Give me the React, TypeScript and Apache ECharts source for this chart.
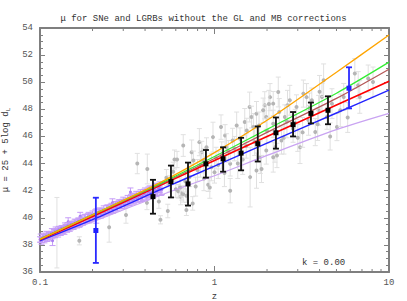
import React, { useEffect, useRef } from "react";
import * as echarts from "echarts";

const FONT = "Liberation Mono";

// model curves, read at these redshifts
const zLine = [0.1, 0.2, 0.5, 1, 2, 5, 10];
const orangeMu = [38.42, 40.22, 42.67, 44.81, 47.19, 50.74, 53.48];
const greenMu = [38.42, 40.22, 42.59, 44.52, 46.52, 49.19, 51.48];
const brownMu = [38.42, 40.19, 42.52, 44.37, 46.3, 48.81, 50.96];
const redMu = [38.37, 40.09, 42.46, 44.22, 46.0, 48.32, 50.07];
const blueMu = [38.3, 39.86, 42.13, 43.81, 45.5, 47.73, 49.41];
const lilacMu = [38.25, 39.7, 41.7, 43.1, 44.6, 46.5, 47.7];

// SNe: [z, mu, err]
const sne = [
  [0.1, 38.4, 0.2], [0.102, 38.3, 0.25], [0.104, 38.55, 0.2], [0.106, 38.45, 0.3], [0.108, 38.62, 0.2],
  [0.11, 38.5, 0.25], [0.112, 38.75, 0.2], [0.114, 38.6, 0.3], [0.116, 38.8, 0.2], [0.118, 38.7, 0.25],
  [0.12, 38.95, 0.2], [0.122, 38.78, 0.25], [0.125, 39.0, 0.2], [0.127, 38.88, 0.3], [0.13, 39.1, 0.2],
  [0.132, 38.98, 0.25], [0.135, 39.2, 0.2], [0.138, 39.08, 0.3], [0.14, 39.3, 0.2], [0.143, 39.18, 0.25],
  [0.146, 39.42, 0.2], [0.15, 39.35, 0.25], [0.153, 39.55, 0.2], [0.156, 39.45, 0.3], [0.16, 39.65, 0.2],
  [0.163, 39.5, 0.25], [0.167, 39.78, 0.2], [0.17, 39.62, 0.25], [0.174, 39.9, 0.25], [0.178, 39.78, 0.2],
  [0.182, 40.0, 0.25], [0.186, 39.88, 0.2], [0.19, 40.1, 0.3], [0.195, 39.98, 0.25], [0.2, 40.25, 0.25],
  [0.205, 40.1, 0.2], [0.21, 40.35, 0.3], [0.215, 40.22, 0.25], [0.22, 40.48, 0.25], [0.226, 40.3, 0.2],
  [0.232, 40.58, 0.3], [0.238, 40.45, 0.25], [0.244, 40.7, 0.25], [0.25, 40.55, 0.3], [0.257, 40.82, 0.25],
  [0.264, 40.68, 0.3], [0.271, 40.95, 0.25], [0.278, 40.8, 0.3], [0.285, 41.08, 0.25], [0.293, 40.95, 0.3],
  [0.3, 41.22, 0.3], [0.309, 41.05, 0.25], [0.318, 41.35, 0.3], [0.327, 41.2, 0.3], [0.336, 41.48, 0.3],
  [0.346, 41.32, 0.25], [0.356, 41.6, 0.35], [0.366, 41.45, 0.3], [0.377, 41.72, 0.35], [0.388, 41.58, 0.3],
  [0.4, 41.85, 0.35], [0.412, 41.7, 0.3], [0.425, 42.0, 0.35], [0.44, 41.88, 0.35], [0.455, 42.15, 0.4],
  [0.47, 42.0, 0.35], [0.485, 42.25, 0.4], [0.5, 42.1, 0.4], [0.118, 38.3, 0.35], [0.145, 39.7, 0.3],
  [0.21, 39.9, 0.3], [0.33, 41.9, 0.3], [0.26, 41.1, 0.3], [0.17, 40.1, 0.3],
  [0.101, 38.5, 0.3], [0.103, 38.38, 0.2], [0.105, 38.62, 0.25], [0.107, 38.5, 0.2], [0.109, 38.7, 0.3],
  [0.111, 38.58, 0.2], [0.113, 38.68, 0.25], [0.115, 38.72, 0.2], [0.117, 38.9, 0.3], [0.119, 38.78, 0.2],
  [0.121, 38.88, 0.25], [0.123, 39.02, 0.3], [0.126, 38.9, 0.2], [0.128, 39.12, 0.25], [0.131, 39.0, 0.3],
  [0.133, 39.22, 0.2], [0.136, 39.1, 0.25], [0.139, 39.32, 0.3], [0.141, 39.2, 0.2], [0.144, 39.4, 0.25],
  [0.148, 39.3, 0.3], [0.151, 39.52, 0.2], [0.154, 39.4, 0.25], [0.158, 39.6, 0.3], [0.161, 39.48, 0.2],
  [0.165, 39.72, 0.25], [0.168, 39.6, 0.3], [0.172, 39.85, 0.2], [0.176, 39.7, 0.25], [0.18, 39.95, 0.3],
  [0.184, 39.82, 0.2], [0.188, 40.05, 0.25], [0.192, 39.92, 0.3], [0.197, 40.15, 0.2], [0.202, 40.05, 0.25],
  [0.207, 40.28, 0.3], [0.212, 40.15, 0.2], [0.218, 40.4, 0.25], [0.223, 40.28, 0.3], [0.229, 40.5, 0.2],
  [0.235, 40.38, 0.25], [0.241, 40.62, 0.3], [0.247, 40.5, 0.2], [0.254, 40.75, 0.25], [0.261, 40.62, 0.3],
  [0.268, 40.88, 0.2], [0.275, 40.75, 0.25], [0.282, 41.0, 0.3], [0.289, 40.88, 0.2], [0.297, 41.12, 0.25],
  [0.305, 41.0, 0.3], [0.314, 41.25, 0.2], [0.323, 41.12, 0.25], [0.332, 41.4, 0.3], [0.341, 41.25, 0.25],
  [0.351, 41.52, 0.3], [0.361, 41.4, 0.25], [0.372, 41.65, 0.3], [0.383, 41.5, 0.3], [0.394, 41.8, 0.3],
  [0.406, 41.62, 0.3], [0.418, 41.92, 0.35], [0.432, 41.8, 0.3], [0.447, 42.05, 0.35], [0.462, 41.95, 0.35],
  [0.478, 42.18, 0.35], [0.493, 42.05, 0.4],
];

// LGRBs: [z, mu, err]
const grbs = [
  [0.125, 38.9, 2.6], [0.168, 38.3, 0.3], [0.249, 39.3, 1.1], [0.311, 40.2, 0.6], [0.361, 44.0, 0.75],
  [0.412, 43.6, 1.1], [0.41, 41.1, 0.5], [0.48, 41.2, 0.5], [0.49, 39.85, 0.3], [0.54, 40.5, 0.5],
  [0.53, 42.96, 0.6], [0.59, 44.3, 0.7], [0.61, 44.3, 0.6], [0.6, 42.1, 0.6], [0.62, 41.95, 0.5],
  [0.64, 41.56, 0.6], [0.65, 41.8, 0.5], [0.69, 40.57, 0.4], [0.69, 41.63, 0.5], [0.75, 41.06, 0.5],
  [0.92, 42.44, 0.5], [1.6, 43.0, 2.2], [0.662, 45.33, 0.8], [0.74, 44.84, 0.9], [0.757, 44.22, 0.7],
  [0.819, 45.58, 1.0], [0.845, 44.84, 0.8], [0.863, 44.22, 0.9], [0.9, 45.2, 0.7], [0.96, 43.73, 1.0],
  [0.98, 45.95, 1.1], [1.0, 43.36, 0.8], [1.09, 46.69, 0.9], [1.15, 46.07, 0.8], [1.17, 45.2, 1.0],
  [1.23, 43.98, 0.9], [1.34, 46.8, 1.0], [1.4, 45.83, 0.8], [1.49, 47.06, 1.0], [1.53, 46.44, 0.9],
  [1.59, 48.17, 1.1], [1.63, 47.43, 0.8], [1.67, 46.69, 1.0], [1.74, 47.68, 0.9], [1.83, 44.47, 1.2],
  [1.94, 48.3, 1.0], [1.98, 47.43, 0.9], [2.17, 46.94, 1.0], [2.22, 45.2, 1.1], [1.86, 43.6, 1.0],
  [1.74, 43.48, 1.3], [0.662, 41.76, 0.6], [0.635, 42.24, 0.7], [0.94, 42.24, 0.8], [1.23, 42.0, 0.9],
  [1.9, 47.93, 0.9], [2.08, 48.9, 1.0], [2.17, 48.42, 0.9], [2.32, 49.28, 1.1], [2.42, 45.7, 1.0],
  [2.53, 47.43, 0.9], [2.7, 48.67, 1.1], [2.82, 46.57, 1.0], [2.95, 48.17, 0.9], [3.09, 45.2, 1.2],
  [3.23, 49.16, 1.0], [3.46, 47.19, 1.1], [3.61, 48.67, 0.9], [3.78, 46.32, 1.0], [3.95, 47.93, 1.1],
  [4.13, 48.91, 1.0], [4.22, 50.15, 1.2], [4.41, 47.43, 0.9], [4.71, 48.42, 1.1], [5.03, 46.69, 1.0],
  [5.26, 47.93, 1.2], [5.5, 48.91, 1.0], [6.37, 50.64, 1.1], [6.66, 49.78, 1.0], [6.8, 48.91, 1.2],
  [7.6, 50.27, 1.0], [8.1, 50.02, 1.1], [1.98, 44.96, 1.0], [2.17, 44.47, 1.1], [2.28, 44.6, 0.9],
  [2.05, 48.4, 1.0], [2.62, 48.3, 1.1], [3.37, 48.9, 1.0], [1.3, 45.1, 0.9], [1.1, 44.6, 1.0],
  [0.8, 43.5, 0.8], [0.72, 43.0, 0.7], [0.55, 42.5, 0.6], [0.87, 42.9, 0.9], [1.05, 43.9, 1.0],
  [1.45, 44.3, 1.1], [1.2, 44.9, 0.8], [2.5, 45.9, 1.2], [2.9, 47.0, 1.0], [3.2, 46.3, 1.1],
  [3.9, 46.9, 1.2], [4.6, 46.0, 1.0], [5.8, 47.4, 1.1], [1.7, 45.6, 1.0], [2.0, 46.4, 0.9],
  [0.58, 43.4, 0.7], [0.68, 42.7, 0.8], [0.78, 42.3, 0.7], [0.83, 43.9, 0.9], [1.02, 44.4, 0.8],
  [1.14, 43.3, 1.0], [1.27, 45.7, 0.9], [1.36, 44.0, 1.1], [1.52, 45.3, 0.9], [1.8, 46.8, 1.0],
  [2.35, 47.8, 1.0], [2.6, 47.1, 1.2], [3.0, 45.9, 1.0], [3.5, 48.1, 1.1], [4.0, 49.3, 1.2],
];

// binned LGRBs: [z, mu, low, high]
const binned = [
  [0.444, 41.56, 40.3, 42.8], [0.563, 42.67, 41.5, 43.85], [0.705, 42.5, 40.9, 44.07],
  [0.893, 43.98, 42.96, 45.0], [1.12, 44.35, 43.4, 45.2], [1.42, 44.77, 43.5, 45.9],
  [1.77, 45.46, 44.15, 46.74], [2.25, 46.27, 45.1, 47.4], [2.82, 46.87, 46.0, 47.8],
  [3.57, 47.7, 46.96, 48.5], [4.47, 47.93, 46.9, 48.96],
];
const blueBins = [
  [0.209, 39.06, 36.67, 41.48], [5.9, 49.56, 48.07, 51.1],
];

const xMinorTicks = [0.2, 0.3, 0.4, 0.5, 0.6, 0.7, 0.8, 0.9, 2, 3, 4, 5, 6, 7, 8, 9];

function errRender(barColor: string, lw: number, capW: number, ptColor: string, ptSize: number, square: boolean) {
  return (params: any, api: any) => {
    const z = api.value(0), mu = api.value(1), lo = api.value(2), hi = api.value(3);
    const p = api.coord([z, mu]);
    const t = api.coord([z, hi]);
    const b = api.coord([z, lo]);
    const st = { stroke: barColor, lineWidth: lw };
    const children: any[] = [
      { type: "line", shape: { x1: p[0], y1: t[1], x2: p[0], y2: b[1] }, style: st },
      { type: "line", shape: { x1: p[0] - capW, y1: t[1], x2: p[0] + capW, y2: t[1] }, style: st },
      { type: "line", shape: { x1: p[0] - capW, y1: b[1], x2: p[0] + capW, y2: b[1] }, style: st },
    ];
    if (square) {
      children.push({ type: "rect", shape: { x: p[0] - ptSize / 2, y: p[1] - ptSize / 2, width: ptSize, height: ptSize }, style: { fill: ptColor } });
    } else {
      children.push({ type: "circle", shape: { cx: p[0], cy: p[1], r: ptSize / 2 }, style: { fill: ptColor } });
    }
    return { type: "group", children };
  };
}

export default function App() {
  const ref = useRef<HTMLDivElement>(null);
  useEffect(() => {
    if (!ref.current) return;
    const chart = echarts.init(ref.current, null, { renderer: "svg" });
    const axisColor = "#7f7f7f";
    const labelStyle = { fontFamily: FONT, fontSize: 9, color: "#555" };
    const toLoHi = (arr: number[][]) => arr.map(([z, m, e]) => [z, m, m - e, m + e]);
    const lineSeries = (mu: number[], color: string, w: number) => ({
      type: "line",
      data: zLine.map((z, i) => [z, mu[i]]),
      showSymbol: false,
      smooth: 0.3,
      lineStyle: { color, width: w },
      z: 3,
      silent: true,
    });
    const xBase: any = {
      type: "log",
      logBase: 10,
      min: 0.1,
      max: 10,
      axisLine: { show: true, lineStyle: { color: axisColor, width: 2 } },
      axisTick: { show: true, inside: true, length: 6, lineStyle: { color: axisColor } },
      splitLine: { show: false },
    };
    const yBase: any = {
      type: "value",
      min: 36,
      max: 54,
      interval: 2,
      axisLine: { show: true, lineStyle: { color: axisColor, width: 2 } },
      axisTick: { show: true, inside: true, length: 5, lineStyle: { color: axisColor } },
      minorTick: { show: true, splitNumber: 4, length: 3, lineStyle: { color: axisColor } },
      splitLine: { show: false },
    };
    chart.setOption({
      animation: false,
      backgroundColor: "#fff",
      title: {
        text: "μ for SNe and LGRBs without the GL and MB corrections",
        left: "center",
        top: 9,
        textStyle: { fontFamily: FONT, fontSize: 9, fontWeight: "normal", color: "#333" },
      },
      grid: { left: 40, right: 18, top: 28, bottom: 29, containLabel: false, outerBoundsMode: "none" },
      xAxis: [
        {
          ...xBase,
          position: "bottom",
          name: "z",
          nameLocation: "middle",
          nameGap: 20,
          nameTextStyle: { fontFamily: FONT, fontSize: 9, color: "#333" },
          axisLabel: { ...labelStyle, margin: 6, formatter: (v: number) => String(v) },
        },
        { ...xBase, position: "top", axisLabel: { show: false } },
      ],
      yAxis: [
        {
          ...yBase,
          position: "left",
          name: "μ = 25 + 5log d{sub|L}",
          nameLocation: "middle",
          nameGap: 27,
          nameTextStyle: {
            fontFamily: FONT,
            fontSize: 9,
            color: "#333",
            rich: { sub: { fontFamily: FONT, fontSize: 6, color: "#333", verticalAlign: "bottom", padding: [4, 0, 0, 0] } },
          },
          axisLabel: { ...labelStyle, margin: 7 },
        },
        { ...yBase, position: "right", axisLabel: { show: false } },
      ],
      graphic: [
        {
          type: "text",
          left: 302,
          top: 258,
          style: { text: "k = 0.00", fontFamily: FONT, fontSize: 9, fill: "#333" },
        },
      ],
      series: [
        {
          type: "custom",
          name: "minorTicks",
          data: xMinorTicks.map((z) => [z, 36]),
          silent: true,
          z: 6,
          renderItem: (params: any, api: any) => {
            const z = api.value(0);
            const b = api.coord([z, 36]);
            const t = api.coord([z, 54]);
            const st = { stroke: axisColor, lineWidth: 1 };
            return {
              type: "group",
              children: [
                { type: "line", shape: { x1: b[0], y1: b[1], x2: b[0], y2: b[1] - 3 }, style: st },
                { type: "line", shape: { x1: t[0], y1: t[1], x2: t[0], y2: t[1] + 3 }, style: st },
              ],
            };
          },
        },
        {
          type: "custom",
          name: "LGRBs",
          data: toLoHi(grbs),
          silent: true,
          z: 1,
          renderItem: errRender("#e0e0e0", 1, 2.5, "#b5b5b5", 4, false),
        },
        {
          type: "custom",
          name: "SNe",
          data: toLoHi(sne),
          silent: true,
          z: 2,
          renderItem: errRender("#c59cf7", 1, 3, "#a97cf2", 3, false),
        },
        lineSeries(lilacMu, "#c9a3f2", 1.2),
        lineSeries(blueMu, "#2323ff", 1.4),
        lineSeries(redMu, "#ff0000", 1.6),
        lineSeries(brownMu, "#b55858", 1.3),
        lineSeries(greenMu, "#33ee33", 1.3),
        lineSeries(orangeMu, "#ffa500", 1.3),
        {
          type: "custom",
          name: "binned",
          data: binned,
          silent: true,
          z: 5,
          renderItem: errRender("#111", 1.8, 3, "#000", 5, true),
        },
        {
          type: "custom",
          name: "blueBins",
          data: blueBins,
          silent: true,
          z: 5,
          renderItem: errRender("#2a2aff", 1.8, 3, "#1f1fff", 5, true),
        },
      ],
    });
    return () => chart.dispose();
  }, []);
  return <div ref={ref} style={{ position: "fixed", left: 0, top: 0, width: 407, height: 301 }} />;
}
